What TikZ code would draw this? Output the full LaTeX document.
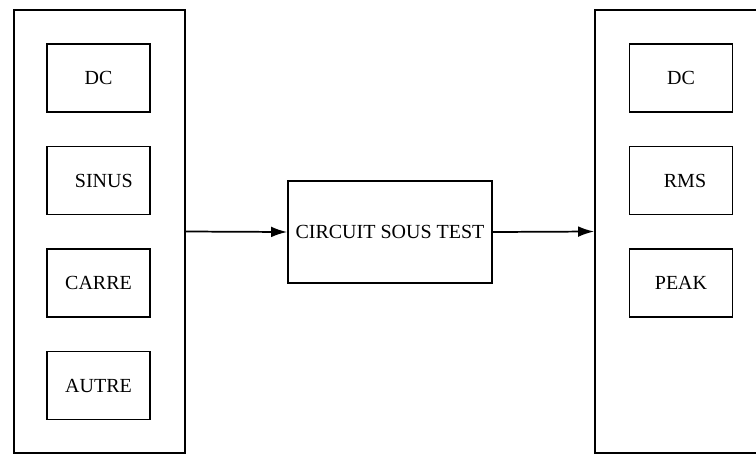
\documentclass[tikz,border=0pt]{standalone}
\usepackage{fontspec}
\setmainfont{Liberation Serif}
\usetikzlibrary{arrows.meta}

\begin{document}
\begin{tikzpicture}[
				x=0.75pt, y=-0.75pt,
				% 所有方框的统一样式
				cadre/.style={draw, line width=1.3pt, inner sep=0pt},
				bloc/.style={cadre, minimum width=77.25pt, minimum height=51pt, font=\fontsize{15}{17}\selectfont},
				groupe/.style={cadre, minimum width=128.25pt, minimum height=332.25pt},
				fleche/.style={-{Latex[length=12pt, width=8pt]}, line width=1.3pt}
				]
				
				% ----- 1. 图形边界 -----
				\useasboundingbox (0, 0) rectangle (756, 454);
				\clip (0, 0) rectangle (756, 454);
				
				% ----- 2. 左侧: 信号源 -----
				\node[groupe] (gen) at (99.5, 231.5) {};
				\node[bloc] (gdc) at (98.5, 78) {DC};
				\node[bloc] (sinus) at (98.5, 180.5) {\hspace{8pt}SINUS};
				\node[bloc] (carre) at (98.5, 283) {CARRE};
				\node[bloc] (autre) at (98.5, 385.5) {AUTRE};
				
				% ----- 3. 中间: 被测电路 -----
				\node[cadre, minimum width=153pt, minimum height=76.5pt, font=\fontsize{15}{17}\selectfont] (cst) at (390, 232) {CIRCUIT SOUS TEST};
				
				% ----- 4. 右侧: 测量 -----
				\node[groupe] (mes) at (680.5, 231.5) {};
				\node[bloc] (mdc) at (681, 78) {DC};
				\node[bloc] (rms) at (681, 180.5) {\hspace{6pt}RMS};
				\node[bloc] (peak) at (681, 283) {PEAK};
				
				% ----- 5. 连接箭头 -----
				\draw[fleche] (gen.east) -- (cst.west);
				\draw[fleche] (cst.east) -- (mes.west);
				
			\end{tikzpicture}
\end{document}
